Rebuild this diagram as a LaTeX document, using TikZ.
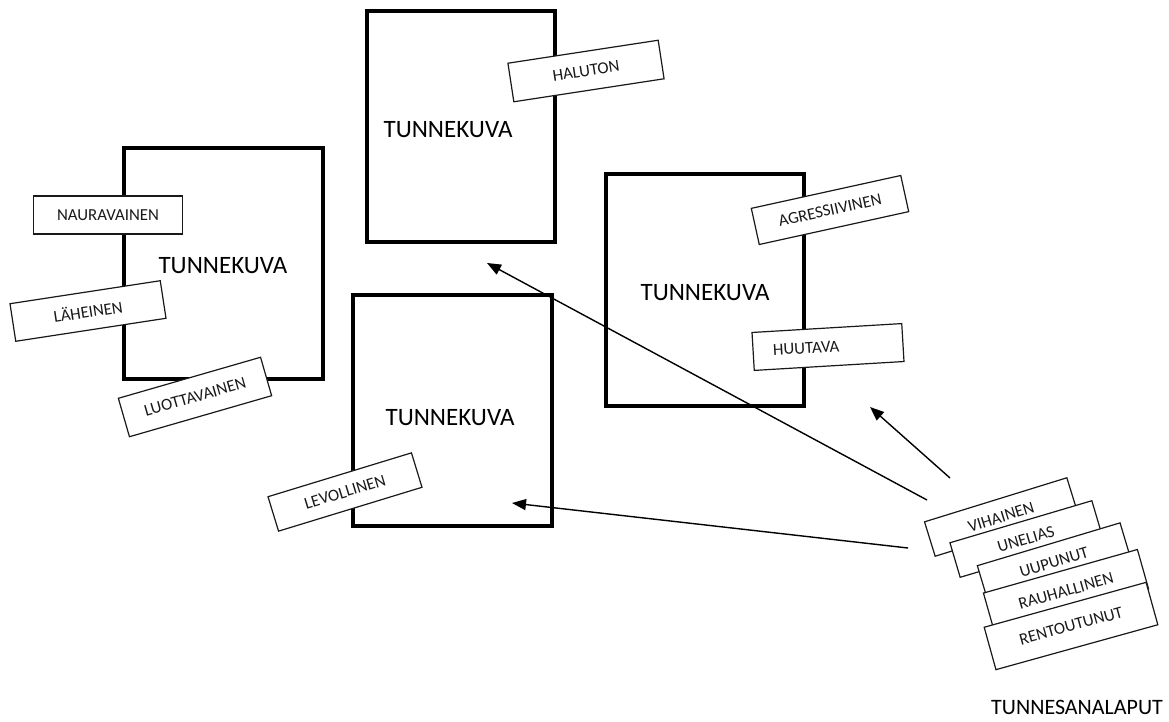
\documentclass[tikz,border=0pt]{standalone}
\usepackage{fontspec}
\setmainfont{Carlito}
\usetikzlibrary{arrows.meta}
\begin{document}
\begin{tikzpicture}[x=1pt,y=1pt,
  frame/.style={draw=black, line width=3.2pt, inner sep=0pt},
  big/.style={font=\fontsize{25}{30}\selectfont, text=black},
  tag/.style={draw=black!90, line width=1.2pt, fill=white, minimum width=150pt,
    minimum height=38pt, inner sep=0pt, text=black!90, font=\fontsize{16.8}{19}\selectfont},
  arr/.style={draw=black, line width=1.4pt, -{Triangle[length=14pt,width=11pt]}}]
\useasboundingbox (0,0) rectangle (1169,-722);
\fill[white] (0,0) rectangle (1169,-722);
% frames
\node[frame, minimum width=199pt, minimum height=231pt] (f1) at (223.5,-263.5) {};
\node[frame, minimum width=188pt, minimum height=231pt] (f2) at (461,-126.5) {};
\node[frame, minimum width=198pt, minimum height=232pt] (f3) at (705,-290) {};
\node[frame, minimum width=199pt, minimum height=231pt] (f4) at (452.5,-410.5) {};
\node[big] (t1) at (223,-266) {TUNNEKUVA};
\node[big] (t2) at (448,-130) {TUNNEKUVA};
\node[big] (t3) at (705,-293) {TUNNEKUVA};
\node[big] (t4) at (450,-418) {TUNNEKUVA};
% labels on frames
\node[tag, minimum width=149pt] (nau) at (108,-215) {NAURAVAINEN};
\node[tag, rotate=8.7, minimum width=152pt] (lah) at (88,-311) {LÄHEINEN};
\node[tag, rotate=16.1, minimum width=148pt, minimum height=40pt] (luo) at (195,-397) {LUOTTAVAINEN};
\node[tag, rotate=17, minimum width=150pt, minimum height=36pt] (lev) at (345,-492) {LEVOLLINEN};
\node[tag, rotate=8.7, minimum width=152pt, minimum height=39pt] (hal) at (586,-71) {HALUTON};
\node[tag, rotate=12.4, minimum width=153pt, minimum height=37pt] (agr) at (830,-210) {AGRESSIIVINEN};
\node[tag, rotate=3.4, minimum width=150pt, minimum height=38pt] (huu) at (828,-347) {\makebox[110pt][l]{HUUTAVA}};
% arrows
\coordinate (s1) at (927,-500);
\coordinate (e1) at (487,-263);
\coordinate (s2) at (950,-478);
\coordinate (e2) at (870,-407);
\coordinate (s3) at (908,-548);
\coordinate (e3) at (512,-503);
\draw[arr] (s1) -- (e1);
\draw[arr] (s2) -- (e2);
\draw[arr] (s3) -- (e3);
% stack
\node[tag, rotate=17.2, minimum width=149pt, minimum height=36pt] (vih) at (1001,-517) {VIHAINEN};
\node[tag, rotate=16.5, minimum width=148pt, minimum height=36pt] (une) at (1026,-539) {UNELIAS};
\node[tag, rotate=16.7, minimum width=149pt, minimum height=37pt] (uup) at (1054,-562) {UUPUNUT};
\node[tag, rotate=15.8, minimum width=160pt, minimum height=41pt] (rau) at (1066,-591) {RAUHALLINEN};
\node[tag, rotate=15.5, minimum width=168pt, minimum height=44pt] (ren) at (1071,-626) {RENTOUTUNUT};
\node[font=\fontsize{22}{26}\selectfont, text=black] (tsl) at (1077,-707) {TUNNESANALAPUT};
\end{tikzpicture}
\end{document}
